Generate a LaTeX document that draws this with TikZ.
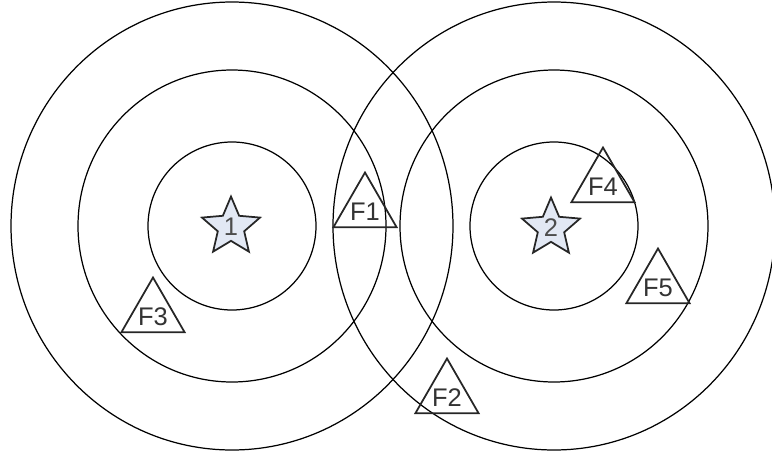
\documentclass[tikz,border=0pt]{standalone}
\usepackage{fontspec}
\setmainfont{Liberation Sans}
\usetikzlibrary{shapes.geometric}
\definecolor{starfill}{RGB}{226,232,244}

\begin{document}
\begin{tikzpicture}[x=0.02cm, y=-0.02cm,
  every node/.style={font=\fontsize{14.5}{17}\selectfont, text=black!80},
  ring/.style={line width=0.7pt, black},
  site/.style={draw=black!85, line width=1pt, fill=starfill, star, star points=5, star point ratio=2.2, minimum size=1.22cm, inner sep=0pt, label={[text=black!70]center:#1}},
  femto/.style={draw=black!85, line width=1pt, regular polygon, regular polygon sides=3, minimum size=1.46cm, inner sep=0pt, label={[yshift=-0.06cm]center:#1}}]
\useasboundingbox (0,0) rectangle (772,454);
\coordinate (c1) at (232,226);
\coordinate (c2) at (554,226);
% coverage rings
\foreach \c in {c1,c2}{
  \draw[ring] (\c) ellipse [x radius=84, y radius=84];
  \draw[ring] (\c) ellipse [x radius=154, y radius=156];
  \draw[ring] (\c) ellipse [x radius=221, y radius=224];
}
\node[site=1] (s1) at (231,227) {};
\node[site=2] (s2) at (551,228) {};
\node[femto=F1] (f1) at (365,209) {};
\node[femto=F2] (f2) at (447,395) {};
\node[femto=F3] (f3) at (153,314) {};
\node[femto=F4] (f4) at (603,184) {};
\node[femto=F5] (f5) at (658,285) {};
\end{tikzpicture}
\end{document}
